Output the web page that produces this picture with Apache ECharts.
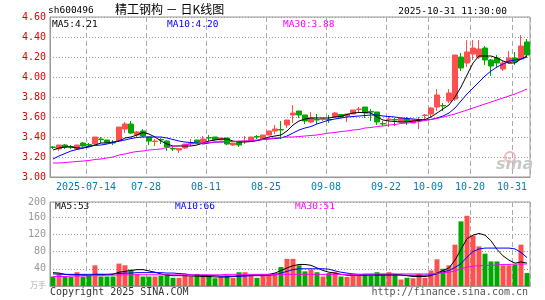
<!DOCTYPE html>
<html>
<head>
<meta charset="utf-8">
<title>精工钢构 - 日K线图</title>
<script src="https://cdn.jsdelivr.net/npm/echarts@6/dist/echarts.min.js"></script>
<style>
html, body { margin: 0; padding: 0; background: #fff; }
#main { width: 545px; height: 300px; }
</style>
</head>
<body>
<div id="main"></div>
<script>
// 交易日
var dates = ['07-04','07-07','07-08','07-09','07-10','07-11','07-14','07-15','07-16','07-17',
    '07-18','07-21','07-22','07-23','07-24','07-25','07-28','07-29','07-30','07-31',
    '08-01','08-04','08-05','08-06','08-07','08-08','08-11','08-12','08-13','08-14',
    '08-15','08-18','08-19','08-20','08-21','08-22','08-25','08-26','08-27','08-28',
    '08-29','09-01','09-02','09-03','09-04','09-05','09-08','09-09','09-10','09-11',
    '09-12','09-15','09-16','09-17','09-18','09-19','09-22','09-23','09-24','09-25',
    '09-26','09-29','09-30','10-09','10-10','10-13','10-14','10-15','10-16','10-17',
    '10-20','10-21','10-22','10-23','10-24','10-27','10-28','10-29','10-30','10-31'];

// K线 开/收/低/高
var openArr = [3.30,3.28,3.32,3.305,3.28,3.34,3.325,3.33,3.38,3.37,
    3.345,3.36,3.48,3.53,3.42,3.46,3.40,3.355,3.375,3.36,
    3.285,3.27,3.29,3.335,3.37,3.34,3.395,3.40,3.37,3.39,
    3.32,3.35,3.355,3.36,3.405,3.38,3.42,3.46,3.475,3.52,
    3.62,3.66,3.62,3.55,3.575,3.575,3.575,3.60,3.625,3.61,
    3.63,3.675,3.70,3.655,3.65,3.535,3.575,3.575,3.55,3.58,
    3.54,3.56,3.615,3.63,3.70,3.715,3.76,3.78,4.20,4.14,
    4.23,4.20,4.29,4.17,4.19,4.08,4.14,4.19,4.18,4.35];
var closeArr = [3.295,3.32,3.30,3.30,3.32,3.31,3.32,3.40,3.375,3.345,
    3.34,3.50,3.53,3.44,3.45,3.41,3.36,3.36,3.37,3.30,
    3.28,3.285,3.33,3.34,3.345,3.38,3.39,3.375,3.39,3.33,
    3.34,3.32,3.36,3.40,3.40,3.42,3.46,3.48,3.47,3.57,
    3.64,3.62,3.56,3.59,3.57,3.58,3.57,3.64,3.60,3.63,
    3.67,3.68,3.64,3.65,3.55,3.53,3.58,3.57,3.59,3.55,
    3.57,3.575,3.62,3.69,3.82,3.71,3.84,4.22,4.09,4.25,
    4.29,4.28,4.17,4.11,4.14,4.14,4.19,4.15,4.31,4.22];
var lowArr = [3.28,3.26,3.28,3.28,3.28,3.30,3.30,3.32,3.34,3.34,
    3.32,3.35,3.44,3.43,3.40,3.40,3.32,3.31,3.33,3.26,
    3.26,3.24,3.28,3.31,3.33,3.33,3.36,3.37,3.37,3.32,
    3.31,3.30,3.33,3.35,3.38,3.37,3.42,3.43,3.38,3.49,
    3.54,3.59,3.53,3.54,3.53,3.56,3.54,3.60,3.59,3.55,
    3.63,3.65,3.59,3.56,3.52,3.51,3.50,3.51,3.55,3.52,
    3.54,3.48,3.57,3.60,3.66,3.66,3.74,3.76,4.06,4.10,
    4.17,4.18,4.12,4.01,4.09,4.06,4.13,4.12,4.18,4.20];
var highArr = [3.31,3.32,3.33,3.32,3.32,3.35,3.34,3.40,3.40,3.37,
    3.37,3.50,3.55,3.56,3.46,3.48,3.40,3.38,3.39,3.37,
    3.30,3.29,3.33,3.38,3.37,3.41,3.42,3.40,3.39,3.39,
    3.34,3.35,3.41,3.40,3.42,3.42,3.46,3.52,3.56,3.57,
    3.72,3.66,3.62,3.65,3.63,3.58,3.62,3.65,3.63,3.63,
    3.67,3.70,3.70,3.68,3.65,3.56,3.61,3.59,3.59,3.60,
    3.57,3.60,3.63,3.70,3.88,3.74,3.88,4.22,4.24,4.37,
    4.37,4.37,4.31,4.18,4.22,4.16,4.26,4.25,4.42,4.38];

// 价格均线
var ma5Arr = [3.27,3.29,3.30,3.30,3.29,3.29,3.30,3.32,3.34,3.34,
    3.35,3.36,3.39,3.40,3.42,3.445,3.43,3.40,3.36,3.33,
    3.31,3.31,3.31,3.31,3.32,3.34,3.36,3.37,3.38,3.38,
    3.36,3.35,3.35,3.355,3.365,3.38,3.40,3.41,3.42,3.46,
    3.52,3.56,3.58,3.59,3.59,3.59,3.59,3.60,3.606,3.625,
    3.64,3.645,3.645,3.64,3.60,3.57,3.56,3.555,3.55,3.55,
    3.56,3.565,3.575,3.60,3.64,3.68,3.72,3.80,3.90,4.02,
    4.14,4.21,4.21,4.21,4.19,4.16,4.14,4.14,4.18,4.21];
var ma10Arr = [3.18,3.21,3.235,3.26,3.275,3.29,3.31,3.315,3.32,3.33,
    3.345,3.36,3.37,3.385,3.395,3.40,3.40,3.40,3.40,3.39,
    3.375,3.36,3.35,3.345,3.34,3.33,3.34,3.35,3.35,3.355,
    3.355,3.355,3.355,3.356,3.365,3.375,3.38,3.385,3.39,3.41,
    3.44,3.47,3.49,3.505,3.53,3.55,3.57,3.58,3.59,3.60,
    3.605,3.61,3.615,3.62,3.62,3.61,3.605,3.60,3.59,3.585,
    3.58,3.575,3.57,3.575,3.59,3.61,3.64,3.69,3.76,3.83,
    3.89,3.95,4.01,4.06,4.10,4.13,4.16,4.17,4.18,4.20];
var ma30Arr = [3.14,3.14,3.145,3.15,3.155,3.16,3.165,3.175,3.18,3.19,
    3.20,3.22,3.23,3.245,3.255,3.26,3.27,3.275,3.28,3.295,
    3.305,3.315,3.32,3.33,3.335,3.34,3.345,3.35,3.35,3.355,
    3.355,3.36,3.36,3.365,3.37,3.375,3.385,3.39,3.395,3.40,
    3.40,3.405,3.41,3.415,3.42,3.43,3.44,3.445,3.455,3.46,
    3.47,3.475,3.49,3.495,3.505,3.51,3.52,3.525,3.535,3.54,
    3.545,3.555,3.565,3.575,3.585,3.60,3.615,3.63,3.65,3.67,
    3.69,3.71,3.73,3.75,3.77,3.79,3.81,3.83,3.855,3.88];

// 成交量(万手)
var volArr = [22,28,22,21,32,21,25,48,22,22,
    22,52,48,38,28,22,22,22,24,28,
    19,19,27,22,28,26,25,18,22,24,
    19,32,32,25,19,28,28,30,44,63,
    63,48,34,38,32,22,30,32,22,21,
    27,27,25,25,32,27,32,28,15,19,
    18,28,19,36,62,40,48,96,150,163,
    117,92,75,57,57,48,48,50,96,30];
var volMa5 = [31,30,27,26,26,25,24,27,27,27,
    27,32,34,36,38,38,35,32,28,25,
    24,24,24,23,23,22,22,21,21,21,
    22,23,24,25,26,26,27,30,36,42,
    47,50,50,48,42,36,32,30,27,25,
    25,25,25,26,26,27,27,27,26,24,
    22,22,22,24,30,36,42,60,85,110,
    118,122,118,105,85,70,60,53,56,53];
var volMa10 = [28,28,27,27,27,27,27,27,27,27,
    28,29,30,30,31,31,31,31,31,30,
    30,29,28,26,25,25,24,24,23,23,
    23,23,23,24,24,24,25,26,30,34,
    38,40,40,40,40,40,39,35,32,30,
    28,27,26,26,25,25,25,25,25,25,
    25,25,25,26,28,33,36,43,52,67,
    80,86,88,88,88,88,88,86,78,66];
var volMa30 = [22,22,22,23,23,23,24,24,24,25,
    25,26,26,26,26,26,26,26,26,26,
    26,26,26,26,26,26,26,26,26,27,
    27,27,27,27,27,27,27,27,27,27,
    27,27,27,27,27,27,27,27,27,27,
    27,27,28,28,28,28,28,28,28,28,
    28,28,28,28,29,31,32,35,40,44,
    46,47,48,48,49,50,50,51,51,51];

// 日期刻度
var tickIndex = [6, 16, 26, 36, 46, 56, 63, 70, 77];
var tickLabels = ['2025-07-14','07-28','08-11','08-25','09-08','09-22','10-09','10-20','10-31'];

var upColor = '#ff5050';
var downColor = '#00a800';
var mono = 'DejaVu Sans Mono';

var candleData = [];
for (var i = 0; i < dates.length; i++) {
    candleData.push([openArr[i], closeArr[i], lowArr[i], highArr[i]]);
}

function isTick(index) {
    return tickIndex.indexOf(index) >= 0;
}

var myChart = echarts.init(document.getElementById('main'), null, { renderer: 'canvas' });
var option = {
    animation: false,
    backgroundColor: '#fff',
    grid: [
        { left: 50, top: 17, width: 480, height: 160, show: true, borderColor: '#999', borderWidth: 1 },
        { left: 50, top: 202, width: 480, height: 84, show: true, borderColor: '#999', borderWidth: 1 }
    ],
    xAxis: [
        {
            type: 'category', gridIndex: 0, data: dates, boundaryGap: true,
            axisLine: { lineStyle: { color: '#999', width: 1 } },
            axisTick: { show: false, interval: function (i) { return isTick(i); } },
            axisLabel: {
                interval: function (i) { return isTick(i); },
                formatter: function (v, i) { var k = tickIndex.indexOf(i); return k >= 0 ? tickLabels[k] : ''; },
                color: '#0080c0', fontFamily: mono, fontSize: 10, margin: 5, padding: [0, 6, 0, 0]
            },
            splitLine: {
                show: true, interval: function (i) { return isTick(i); },
                lineStyle: { color: '#aaa', type: [5, 3], width: 1 }
            }
        },
        {
            type: 'category', gridIndex: 1, data: dates, boundaryGap: true,
            axisLine: { lineStyle: { color: '#999', width: 1 } },
            axisTick: { show: false, interval: function (i) { return isTick(i); } },
            axisLabel: { show: false },
            splitLine: {
                show: true, interval: function (i) { return isTick(i); },
                lineStyle: { color: '#aaa', type: [5, 3], width: 1 }
            }
        }
    ],
    yAxis: [
        {
            type: 'value', gridIndex: 0, min: 3.0, max: 4.6, interval: 0.2,
            axisLine: { show: true, lineStyle: { color: '#999' } },
            axisTick: { show: false },
            axisLabel: {
                color: '#e00000', fontFamily: mono, fontSize: 10, margin: 4,
                formatter: function (v) { return v.toFixed(2); }
            },
            splitLine: { lineStyle: { color: '#999', type: [1, 2] } }
        },
        {
            type: 'value', gridIndex: 1, min: 0, max: 195, interval: 40,
            axisLine: { show: true, lineStyle: { color: '#999' } },
            axisTick: { show: false },
            axisLabel: {
                color: '#999', fontFamily: mono, fontSize: 10, margin: 4,
                showMinLabel: false, showMaxLabel: true,
                formatter: function (v) { if (v === 0) return ''; if (v > 180) return '200'; return String(v); }
            },
            splitLine: { lineStyle: { color: '#999', type: [1, 2] } }
        }
    ],
    series: [
        {
            name: 'K', type: 'candlestick', xAxisIndex: 0, yAxisIndex: 0,
            data: candleData, barWidth: 5,
            itemStyle: { color: upColor, color0: downColor, borderColor: upColor, borderColor0: downColor, borderWidth: 1 }
        },
        { name: 'MA5', type: 'line', xAxisIndex: 0, yAxisIndex: 0, data: ma5Arr, showSymbol: false, silent: true,
            lineStyle: { color: '#000', width: 1 } },
        { name: 'MA10', type: 'line', xAxisIndex: 0, yAxisIndex: 0, data: ma10Arr, showSymbol: false, silent: true,
            lineStyle: { color: '#0000ff', width: 1 } },
        { name: 'MA30', type: 'line', xAxisIndex: 0, yAxisIndex: 0, data: ma30Arr, showSymbol: false, silent: true,
            lineStyle: { color: '#ff00ff', width: 1 } },
        {
            name: 'VOL', type: 'bar', xAxisIndex: 1, yAxisIndex: 1, data: volArr, barWidth: 5,
            itemStyle: {
                color: function (p) { return closeArr[p.dataIndex] >= openArr[p.dataIndex] ? upColor : downColor; }
            }
        },
        { name: 'VMA5', type: 'line', xAxisIndex: 1, yAxisIndex: 1, data: volMa5, showSymbol: false, silent: true,
            lineStyle: { color: '#000', width: 1 } },
        { name: 'VMA10', type: 'line', xAxisIndex: 1, yAxisIndex: 1, data: volMa10, showSymbol: false, silent: true,
            lineStyle: { color: '#0000ff', width: 1 } },
        { name: 'VMA30', type: 'line', xAxisIndex: 1, yAxisIndex: 1, data: volMa30, showSymbol: false, silent: true,
            lineStyle: { color: '#ff00ff', width: 1 } }
    ],
    graphic: [
        // 标题
        { type: 'text', left: 48, top: 6, style: { text: 'sh600496', fill: '#000', font: '9.5px "DejaVu Sans Mono"' } },
        { type: 'text', left: 115, top: 3, style: { text: '精工钢构 － 日K线图', fill: '#000', font: '12px "Noto Sans CJK SC"' } },
        { type: 'text', right: 38, top: 7, style: { text: '2025-10-31 11:30:00', fill: '#000', font: '9.5px "DejaVu Sans Mono"' } },
        // 均线数值
        { type: 'text', left: 52, top: 20, style: { text: 'MA5:4.21', fill: '#000', font: '9.5px "DejaVu Sans Mono"' } },
        { type: 'text', left: 167, top: 20, style: { text: 'MA10:4.20', fill: '#0000ff', font: '9.5px "DejaVu Sans Mono"' } },
        { type: 'text', left: 283, top: 20, style: { text: 'MA30:3.88', fill: '#ff00ff', font: '9.5px "DejaVu Sans Mono"' } },
        { type: 'text', left: 55, top: 202, style: { text: 'MA5:53', fill: '#000', font: '9.5px "DejaVu Sans Mono"' } },
        { type: 'text', left: 175, top: 202, style: { text: 'MA10:66', fill: '#0000ff', font: '9.5px "DejaVu Sans Mono"' } },
        { type: 'text', left: 295, top: 202, style: { text: 'MA30:51', fill: '#ff00ff', font: '9.5px "DejaVu Sans Mono"' } },
        // 单位
        { type: 'text', left: 30, top: 281, style: { text: '万手', fill: '#aaa', font: '8px "Noto Sans CJK SC"' } },
        // 版权
        { type: 'text', left: 50, top: 287, style: { text: 'Copyright 2025 SINA.COM', fill: '#333', font: '10px "DejaVu Sans Mono"' } },
        { type: 'text', right: 17, top: 287, style: { text: 'http://finance.sina.com.cn', fill: '#555', font: '10px "DejaVu Sans Mono"' } },
        // 水印
        { type: 'circle', shape: { cx: 510, cy: 157, r: 5 }, style: { fill: 'none', stroke: '#f0b8b8', lineWidth: 2 }, z: 1 },
        { type: 'text', left: 496, top: 157, z: 1,
            style: { text: 'sina', fill: '#c8c8c8', font: 'italic bold 16px "DejaVu Sans"' } }
    ]
};
myChart.setOption(option);
</script>
</body>
</html>
